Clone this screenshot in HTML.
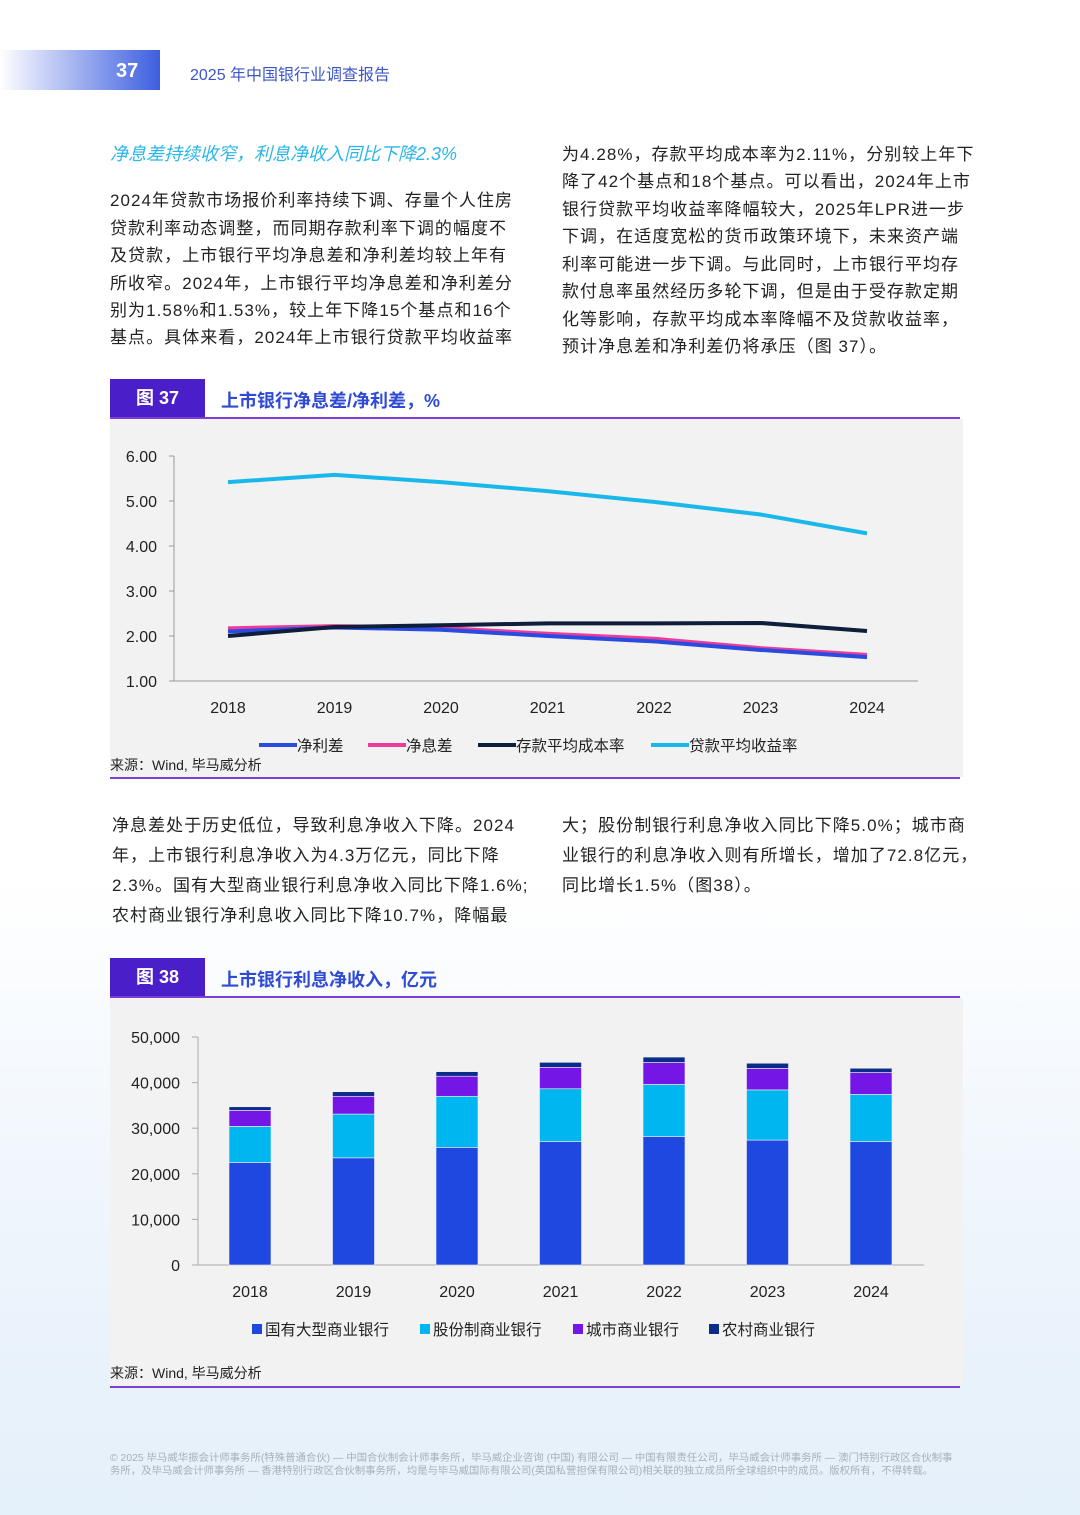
<!DOCTYPE html>
<html><head><meta charset="utf-8">
<style>
body{margin:0;width:1080px;height:1515px;position:relative;overflow:hidden;font-family:"Liberation Sans","Noto Sans CJK SC",sans-serif;background:linear-gradient(180deg,#fff 0%,#fff 58%,#eef5fc 80%,#e4f0fa 100%);}
.a{position:absolute;white-space:nowrap;}
.p{font-size:17px;color:#222;letter-spacing:1.05px;}
.fh{position:absolute;left:110px;width:95px;height:39px;background:#4a1ec8;color:#fff;font-size:18px;font-weight:bold;line-height:39px;text-align:center;}
.ft{position:absolute;left:221px;color:#2f4bd6;font-size:18px;font-weight:bold;}
.ln{position:absolute;left:110px;width:850px;height:2px;background:#7a3fd6;}
.bg{position:absolute;left:110px;width:853px;background:#f2f2f2;}
</style></head><body>
<div class="a" style="left:0;top:50px;width:160px;height:40px;background:linear-gradient(90deg,#fff,#3d5ee0);"></div>
<div class="a" style="left:116px;top:60px;color:#fff;font-size:20px;font-weight:bold;">37</div>
<div class="a" style="left:190px;top:61px;color:#3d55c8;font-size:16px;">2025 年中国银行业调查报告</div>

<div class="a" style="left:110px;top:140px;color:#2bb6e8;font-size:18px;font-style:italic;">净息差持续收窄，利息净收入同比下降2.3%</div>
<div>
<div class="a p" style="left:110px;top:186px">2024年贷款市场报价利率持续下调、存量个人住房</div>
<div class="a p" style="left:110px;top:214px">贷款利率动态调整，而同期存款利率下调的幅度不</div>
<div class="a p" style="left:110px;top:241px">及贷款，上市银行平均净息差和净利差均较上年有</div>
<div class="a p" style="left:110px;top:269px">所收窄。2024年，上市银行平均净息差和净利差分</div>
<div class="a p" style="left:110px;top:296px">别为1.58%和1.53%，较上年下降15个基点和16个</div>
<div class="a p" style="left:110px;top:323px">基点。具体来看，2024年上市银行贷款平均收益率</div>
</div>
<div>
<div class="a p" style="left:562px;top:140px">为4.28%，存款平均成本率为2.11%，分别较上年下</div>
<div class="a p" style="left:562px;top:167px">降了42个基点和18个基点。可以看出，2024年上市</div>
<div class="a p" style="left:562px;top:195px">银行贷款平均收益率降幅较大，2025年LPR进一步</div>
<div class="a p" style="left:562px;top:222px">下调，在适度宽松的货币政策环境下，未来资产端</div>
<div class="a p" style="left:562px;top:250px">利率可能进一步下调。与此同时，上市银行平均存</div>
<div class="a p" style="left:562px;top:277px">款付息率虽然经历多轮下调，但是由于受存款定期</div>
<div class="a p" style="left:562px;top:305px">化等影响，存款平均成本率降幅不及贷款收益率，</div>
<div class="a p" style="left:562px;top:332px">预计净息差和净利差仍将承压（图 37）。</div>
</div>

<div class="fh" style="top:379px">图 37</div>
<div class="a ft" style="top:387px">上市银行净息差/净利差，%</div>
<div class="ln" style="top:417px"></div>
<div class="bg" style="top:419px;height:358px"></div>
<div class="ln" style="top:777px"></div>
<svg class="a" style="left:0;top:0" width="1080" height="800" id="c1"></svg>
<div class="a" style="left:110px;top:755px;font-size:14px;color:#222">来源：Wind, 毕马威分析</div>

<div>
<div class="a p" style="left:112px;top:811px">净息差处于历史低位，导致利息净收入下降。2024</div>
<div class="a p" style="left:112px;top:841px">年，上市银行利息净收入为4.3万亿元，同比下降</div>
<div class="a p" style="left:112px;top:871px">2.3%。国有大型商业银行利息净收入同比下降1.6%;</div>
<div class="a p" style="left:112px;top:901px">农村商业银行净利息收入同比下降10.7%，降幅最</div>
</div>
<div>
<div class="a p" style="left:562px;top:811px">大；股份制银行利息净收入同比下降5.0%；城市商</div>
<div class="a p" style="left:562px;top:841px">业银行的利息净收入则有所增长，增加了72.8亿元，</div>
<div class="a p" style="left:562px;top:871px">同比增长1.5%（图38）。</div>
</div>

<div class="fh" style="top:958px">图 38</div>
<div class="a ft" style="top:966px">上市银行利息净收入，亿元</div>
<div class="ln" style="top:996px"></div>
<div class="bg" style="top:998px;height:388px"></div>
<div class="ln" style="top:1386px"></div>
<svg class="a" style="left:0;top:1000px" width="1080" height="360" id="c2"></svg>
<div class="a" style="left:110px;top:1363px;font-size:14px;color:#222">来源：Wind, 毕马威分析</div>

<div class="a" style="left:110px;top:1452px;font-size:10.4px;color:#a9b0b8;line-height:13px;">© 2025 毕马威华振会计师事务所(特殊普通合伙) — 中国合伙制会计师事务所，毕马威企业咨询 (中国) 有限公司 — 中国有限责任公司，毕马威会计师事务所 — 澳门特别行政区合伙制事<br>务所，及毕马威会计师事务所 — 香港特别行政区合伙制事务所，均是与毕马威国际有限公司(英国私营担保有限公司)相关联的独立成员所全球组织中的成员。版权所有，不得转载。</div>

<script>
const NS='http://www.w3.org/2000/svg';
function mk(p,t,a,txt){const e=document.createElementNS(NS,t);for(const k in a)e.setAttribute(k,a[k]);if(txt!==undefined)e.textContent=txt;p.appendChild(e);return e;}
// ---- Chart 1 data
const years=['2018','2019','2020','2021','2022','2023','2024'];
const netSpread=[2.10,2.19,2.14,2.00,1.88,1.69,1.53];
const nim=[2.17,2.22,2.18,2.05,1.94,1.73,1.58];
const depositCost=[2.00,2.20,2.24,2.28,2.28,2.29,2.11];
const loanYield=[5.42,5.58,5.42,5.22,4.98,4.70,4.28];
const yTicks1=['1.00','2.00','3.00','4.00','5.00','6.00'];
// ---- Chart 2 data
const bigBanks=[22500,23500,25800,27100,28200,27400,27100];
const jointStock=[7900,9600,11200,11550,11400,11000,10300];
const cityBanks=[3500,3900,4400,4700,4800,4700,4800];
const ruralBanks=[800,1000,1000,1100,1200,1150,950];
const yTicks2=[0,10000,20000,30000,40000,50000];

(function(){
const s=document.getElementById('c1');
const X=i=>228+i*106.5, Y=v=>681-(v-1)*45;
mk(s,'line',{x1:174,y1:456,x2:174,y2:681,stroke:'#999'});
mk(s,'line',{x1:174,y1:681,x2:918,y2:681,stroke:'#999'});
yTicks1.forEach(t=>{const y=Y(+t);
 const tk=mk(s,'line',{x1:169,y1:y,x2:174,y2:y,stroke:'#999'});
 
 const l=mk(s,'text',{x:157,y:y+6,'text-anchor':'end','font-size':16,fill:'#222'},t);
 });
years.forEach((t,i)=>{const l=mk(s,'text',{x:X(i),y:713,'text-anchor':'middle','font-size':16,fill:'#222'},t);
 });
const series=[[netSpread,'#2a4be0','净利差','net-spread-line'],[nim,'#ee3c9a','净息差','nim-line'],[depositCost,'#0f1e3a','存款平均成本率','deposit-cost-line'],[loanYield,'#1ab8ea','贷款平均收益率','loan-yield-line']];
const order=[1,0,2,3];
order.forEach(k=>{const [d,c,,n]=series[k];
 const p=mk(s,'polyline',{points:d.map((v,i)=>X(i)+','+Y(v)).join(' '),fill:'none',stroke:c,'stroke-width':4,'stroke-linejoin':'round'});
 });
const lx=[259,368,478,651];
series.forEach(([,c,name],k)=>{
 const g=mk(s,'g',{});
 mk(g,'line',{x1:lx[k],y1:745,x2:lx[k]+38,y2:745,stroke:c,'stroke-width':4});
 mk(g,'text',{x:lx[k]+38,y:751,'font-size':15.5,fill:'#222'},name);});
})();

(function(){
const s=document.getElementById('c2');
const X=i=>250+i*103.5, Y=v=>265-v/50000*228;
mk(s,'line',{x1:198,y1:37,x2:198,y2:265,stroke:'#aaa'});
mk(s,'line',{x1:198,y1:265,x2:924,y2:265,stroke:'#aaa'});
yTicks2.forEach(t=>{const y=Y(t);
 const tk=mk(s,'line',{x1:192,y1:y,x2:198,y2:y,stroke:'#aaa'});
 
 const l=mk(s,'text',{x:180,y:y+6,'text-anchor':'end','font-size':16,fill:'#222'},t.toLocaleString('en-US'));
 });
years.forEach((t,i)=>{const l=mk(s,'text',{x:X(i),y:297,'text-anchor':'middle','font-size':16,fill:'#222'},t);
 });
const ser=[[bigBanks,'#1f48e0','国有大型商业银行','bar-big-banks'],[jointStock,'#00b6f0','股份制商业银行','bar-joint-stock'],[cityBanks,'#7417e6','城市商业银行','bar-city-banks'],[ruralBanks,'#0a2d8c','农村商业银行','bar-rural-banks']];
years.forEach((y,i)=>{let acc=0;
 ser.forEach(([d,c,,n])=>{const y0=Y(acc),y1=Y(acc+d[i]);acc+=d[i];
  const r=mk(s,'rect',{x:X(i)-21,y:y1,width:42,height:y0-y1,fill:c,stroke:'#f2f2f2','stroke-width':0.6});
  });});
const lx=[252,420,573,709];
ser.forEach(([,c,name],k)=>{
 const g=mk(s,'g',{});
 mk(g,'rect',{x:lx[k],y:324,width:10,height:10,fill:c});
 mk(g,'text',{x:lx[k]+13,y:335,'font-size':15.5,fill:'#222'},name);});
})();
</script>
</body></html>
